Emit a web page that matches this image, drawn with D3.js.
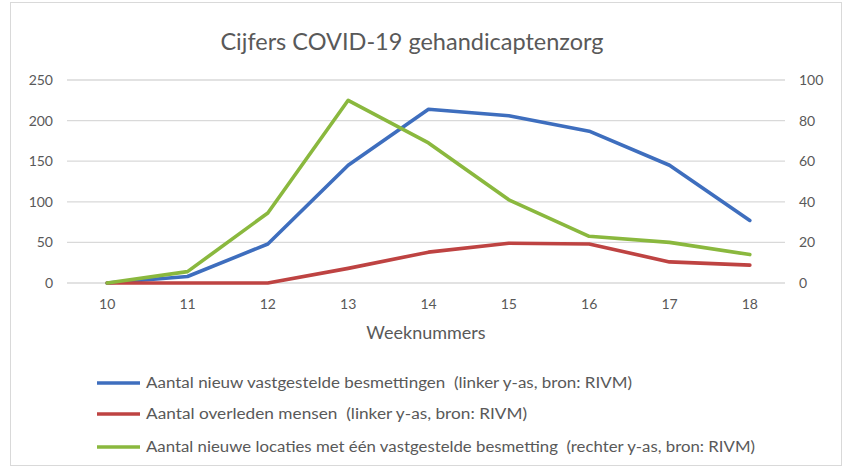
<!DOCTYPE html>
<html><head><meta charset="utf-8">
<script src="https://cdn.jsdelivr.net/npm/d3@7"></script>
<style>body{margin:0;background:#fff}svg{display:block}text{font-family:Lato,"Open Sans",sans-serif}</style>
</head><body><svg id="c" width="844" height="468"></svg>
<script>
const weeks = ["10","11","12","13","14","15","16","17","18"];
const infections = [0, 8, 48, 145, 214, 206, 187, 145, 77];
const deaths = [0, 0, 0, 18, 38, 49, 48, 26, 22];
const locations = [0, 5.6, 34.5, 90, 69, 41, 23, 20, 14];
const leftTicks = [0, 50, 100, 150, 200, 250];
const rightTicks = [0, 20, 40, 60, 80, 100];
const seriesNames = [
  "Aantal nieuw vastgestelde besmettingen  (linker y-as, bron: RIVM)",
  "Aantal overleden mensen  (linker y-as, bron: RIVM)",
  "Aantal nieuwe locaties met één vastgestelde besmetting  (rechter y-as, bron: RIVM)"
];
const legendWidths = [486, 381, 609];
const colors = ["#3E6EBE", "#BE4342", "#8AB83E"];

const svg = d3.select("#c");
svg.append("rect").attr("x",10.5).attr("y",2.5).attr("width",831).attr("height",463)
  .attr("fill","#fff").attr("stroke","#d9d9d9");

const x = d3.scaleBand().domain(weeks).range([67, 790]);
const yL = d3.scaleLinear().domain([0, 250]).range([283, 80]);
const yR = d3.scaleLinear().domain([0, 100]).range([283, 80]);
const cx = d => x(d) + x.bandwidth()/2;

svg.append("g").selectAll("line").data(leftTicks).join("line")
  .attr("x1",67).attr("x2",785).attr("y1",d=>yL(d)).attr("y2",d=>yL(d))
  .attr("stroke","#d9d9d9").attr("stroke-width",1.3);

const axL = svg.append("g").attr("transform","translate(67,0)")
  .call(d3.axisLeft(yL).tickValues(leftTicks).tickSize(0).tickPadding(14));
axL.select(".domain").remove();
axL.selectAll("text").attr("font-size",14).attr("fill","#595959");

const axR = svg.append("g").attr("transform","translate(785,0)")
  .call(d3.axisRight(yR).tickValues(rightTicks).tickSize(0).tickPadding(14));
axR.select(".domain").remove();
axR.selectAll("text").attr("font-size",14).attr("fill","#595959");

const axX = svg.append("g").attr("transform","translate(0,283)")
  .call(d3.axisBottom(x).tickSize(0).tickPadding(16));
axX.select(".domain").remove();
axX.selectAll("text").attr("font-size",14).attr("fill","#595959");

svg.append("text").attr("x",426).attr("y",339).attr("text-anchor","middle")
  .attr("font-size",18).attr("fill","#595959").text("Weeknummers");

svg.append("text").attr("x",412).attr("y",50).attr("text-anchor","middle")
  .attr("font-size",23.5).attr("fill","#595959").text("Cijfers COVID-19 gehandicaptenzorg");

const data = [
  {vals: infections, y: yL},
  {vals: deaths, y: yL},
  {vals: locations, y: yR}
];
data.forEach((s,i) => {
  const line = d3.line().x((d,j)=>cx(weeks[j])).y(d=>s.y(d));
  svg.append("path").datum(s.vals).attr("d",line).attr("fill","none")
    .attr("stroke",colors[i]).attr("stroke-width",3.6)
    .attr("stroke-linejoin","round").attr("stroke-linecap","round");
});

const ly = [383, 414, 447];
const lg = svg.append("g").selectAll("g").data(seriesNames).join("g")
  .attr("transform",(d,i)=>`translate(0,${ly[i]})`);
lg.append("line").attr("x1",97).attr("x2",140).attr("y1",0).attr("y2",0)
  .attr("stroke",(d,i)=>colors[i]).attr("stroke-width",3.6);
lg.append("text").attr("x",146).attr("y",5).attr("font-size",14.5).attr("fill","#595959")
  .attr("textLength",(d,i)=>legendWidths[i]).attr("lengthAdjust","spacingAndGlyphs")
  .style("white-space","pre").text(d=>d);
</script></body></html>
